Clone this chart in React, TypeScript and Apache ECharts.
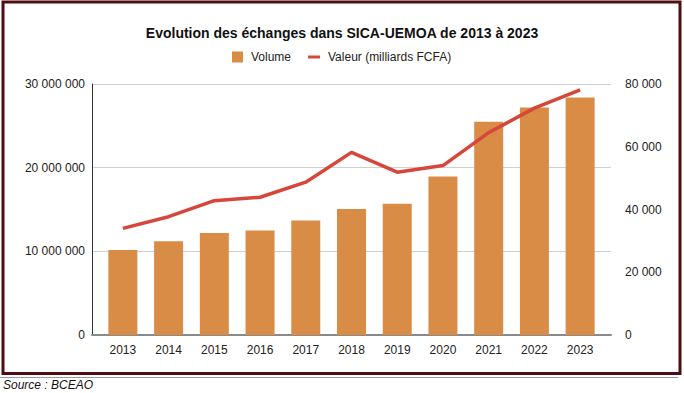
import React, { useEffect, useRef } from "react";
import * as echarts from "echarts";

const years = ["2013", "2014", "2015", "2016", "2017", "2018", "2019", "2020", "2021", "2022", "2023"];
const volume = [10150000, 11200000, 12200000, 12500000, 13700000, 15050000, 15700000, 18950000, 25500000, 27200000, 28400000];
const valeur = [34000, 37700, 42800, 43900, 48700, 58200, 51900, 54000, 64500, 72300, 78100];
const titleText = "Evolution des échanges dans SICA-UEMOA de 2013 à 2023";
const sourceText = "Source : BCEAO";
const volumeName = "Volume";
const valeurName = "Valeur (milliards FCFA)";

const fmt = (v: number) => String(v).replace(/\B(?=(\d{3})+(?!\d))/g, " ");
const FONT = "'Liberation Sans', Arial, sans-serif";

export default function App() {
  const ref = useRef<HTMLDivElement>(null);
  useEffect(() => {
    if (!ref.current) return;
    const chart = echarts.init(ref.current, undefined, { renderer: "svg" });
    const axisLabel = { color: "#222", fontSize: 12, fontFamily: FONT };
    chart.setOption({
      animation: false,
      backgroundColor: "#fff",
      title: {
        text: titleText,
        left: "center",
        top: 21,
        textStyle: { fontSize: 14, fontWeight: "bold", color: "#111", fontFamily: FONT },
      },
      legend: [
        {
          data: [{ name: volumeName, icon: "rect" }],
          left: 232,
          top: 51,
          padding: 0,
          itemWidth: 11,
          itemHeight: 11,
          textStyle: { fontSize: 12, color: "#222", fontFamily: FONT, padding: [0, 0, 0, 3] },
        },
        {
          data: [{ name: valeurName, icon: "rect" }],
          left: 308,
          top: 51,
          padding: 0,
          itemWidth: 12,
          itemHeight: 3,
          textStyle: { fontSize: 12, color: "#222", fontFamily: FONT, padding: [0, 0, 0, 3] },
        },
      ],
      grid: [
        { left: 92, right: 73, top: 84, bottom: 58 },
        { left: 100, right: 81, top: 84, bottom: 58 },
      ],
      xAxis: [
        {
          gridIndex: 0,
          type: "value",
          min: 0,
          max: 1,
          axisLine: { show: true, lineStyle: { color: "#8a8a8a", width: 2 } },
          axisTick: { show: false },
          axisLabel: { show: false },
          splitLine: { show: false },
        },
        {
          gridIndex: 1,
          type: "category",
          data: years,
          axisLine: { show: false },
          axisTick: { show: false },
          axisLabel: { ...axisLabel, margin: 9 },
        },
      ],
      yAxis: [
        {
          gridIndex: 0,
          type: "value",
          min: 0,
          max: 30000000,
          interval: 10000000,
          position: "left",
          axisLine: { show: true, lineStyle: { color: "#333", width: 1 } },
          axisTick: { show: false },
          axisLabel: { ...axisLabel, margin: 7, formatter: (v: number) => fmt(v) },
          splitLine: { show: true, lineStyle: { color: "#cfcfcf", width: 1 } },
        },
        {
          gridIndex: 0,
          type: "value",
          min: 0,
          max: 80000,
          interval: 20000,
          position: "right",
          axisLine: { show: false },
          axisTick: { show: false },
          axisLabel: { ...axisLabel, margin: 14, formatter: (v: number) => fmt(v) },
          splitLine: { show: false },
        },
        { gridIndex: 1, type: "value", min: 0, max: 30000000, show: false },
        { gridIndex: 1, type: "value", min: 0, max: 80000, show: false },
      ],
      series: [
        {
          name: volumeName,
          type: "bar",
          xAxisIndex: 1,
          yAxisIndex: 2,
          data: volume,
          barWidth: 29,
          itemStyle: { color: "#d98c46" },
          z: 2,
        },
        {
          name: valeurName,
          type: "line",
          xAxisIndex: 1,
          yAxisIndex: 3,
          data: valeur,
          symbol: "none",
          showSymbol: false,
          lineStyle: { color: "#d6463a", width: 3.5 },
          itemStyle: { color: "#d6463a" },
          z: 3,
        },
      ],
      graphic: [
        {
          type: "rect",
          shape: { x: 3, y: 2, width: 677, height: 371.5 },
          style: { fill: "none", stroke: "#4d0d12", lineWidth: 3 },
          silent: true,
        },
        {
          type: "line",
          shape: { x1: 0, y1: 377.5, x2: 678, y2: 377.5 },
          style: { stroke: "#9a9a9a", lineWidth: 1 },
          silent: true,
        },
        {
          type: "text",
          x: 3,
          y: 385,
          style: {
            text: sourceText,
            fontSize: 12,
            fontStyle: "italic",
            fontFamily: FONT,
            fill: "#111",
            verticalAlign: "middle",
          },
          silent: true,
        },
      ],
    });
    return () => chart.dispose();
  }, []);
  return (
    <div
      ref={ref}
      style={{ position: "absolute", left: 0, top: 0, width: 684, height: 393 }}
    />
  );
}
